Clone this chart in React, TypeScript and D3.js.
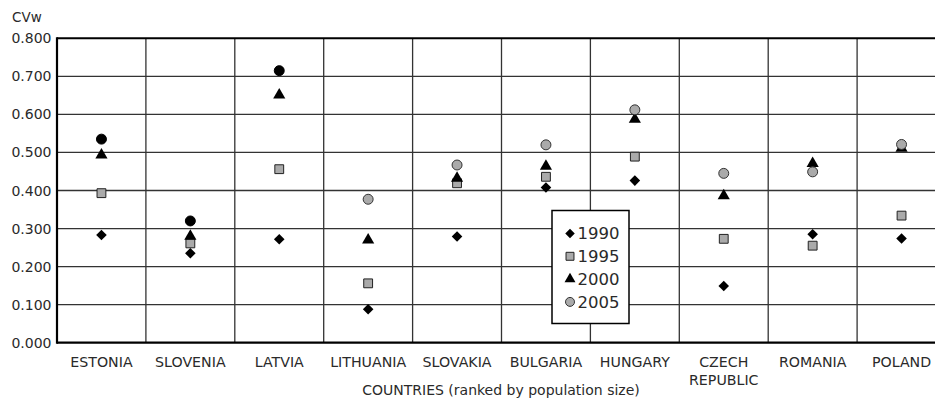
import React from "react";
import * as d3 from "d3";

const countries = ["ESTONIA", "SLOVENIA", "LATVIA", "LITHUANIA", "SLOVAKIA", "BULGARIA", "HUNGARY", "CZECH REPUBLIC", "ROMANIA", "POLAND"];
const years = ["1990", "1995", "2000", "2005"];
const v1990 = [0.283, 0.235, 0.272, 0.088, 0.279, 0.408, 0.426, 0.149, 0.285, 0.274];
const v1995 = [0.393, 0.261, 0.456, 0.156, 0.419, 0.436, 0.489, 0.273, 0.255, 0.334];
const v2000 = [0.493, 0.280, 0.651, 0.270, 0.432, 0.464, 0.587, 0.386, 0.471, 0.511];
const v2005 = [0.535, 0.320, 0.715, 0.377, 0.467, 0.520, 0.612, 0.445, 0.449, 0.521];
const yTicks = [0, 0.1, 0.2, 0.3, 0.4, 0.5, 0.6, 0.7, 0.8];

const W = 935, H = 401;
const left = 57, top = 38.3, bottom = 342.7, bandW = 88.9;
const FONT = "'DejaVu Sans', sans-serif";
const TXT = "#2a2a2a";

function Marker({ kind, x, y, scale = 1, dark = false }: { kind: number; x: number; y: number; scale?: number; dark?: boolean }) {
  if (kind === 0) {
    const p = d3.symbol().type(d3.symbolSquare).size(56 * scale * scale)();
    return <path d={p || ""} transform={`translate(${x},${y}) rotate(45)`} fill="#000" />;
  }
  if (kind === 1) {
    const p = d3.symbol().type(d3.symbolSquare).size(78 * scale * scale)();
    return <path d={p || ""} transform={`translate(${x},${y})`} fill="#aaa" stroke="#222" strokeWidth={1} />;
  }
  if (kind === 2) {
    const p = d3.symbol().type(d3.symbolTriangle).size(64 * scale * scale)();
    return <path d={p || ""} transform={`translate(${x},${y})`} fill="#000" />;
  }
  const p = d3.symbol().type(d3.symbolCircle).size(78 * scale * scale)();
  return <path d={p || ""} transform={`translate(${x},${y})`} fill={dark ? "#000" : "#aaa"} stroke={dark ? "#000" : "#333"} strokeWidth={1} />;
}

export default function App() {
  const x = d3.scaleBand<string>().domain(countries).range([left, left + bandW * countries.length]).padding(0);
  const y = d3.scaleLinear().domain([0, 0.8]).range([bottom, top]);
  const series = [v1990, v1995, v2000, v2005];

  const legend = { x0: 552, y0: 210.5, w: 77, h: 113 };

  return (
    <svg width={W} height={H} style={{ position: "absolute", left: 0, top: 0, background: "#fff" }} fontFamily={FONT}>
      <rect x={0} y={0} width={W} height={H} fill="#fff" />
      <text x={12} y={21.5} fontSize={13.5} fill={TXT}>CVw</text>
      {yTicks.slice(1, -1).map((t) => (
        <line key={"h" + t} x1={left} x2={W + 20} y1={y(t)} y2={y(t)} stroke="#333" strokeWidth={1.3} />
      ))}
      {countries.slice(1).map((c) => (
        <line key={"v" + c} x1={x(c)!} x2={x(c)!} y1={top} y2={bottom} stroke="#333" strokeWidth={1.3} />
      ))}
      <line x1={left} x2={W + 20} y1={top} y2={top} stroke="#000" strokeWidth={2} />
      <line x1={left} x2={W + 20} y1={bottom} y2={bottom} stroke="#000" strokeWidth={2.2} />
      <line x1={left} x2={left} y1={top - 1} y2={bottom + 1} stroke="#000" strokeWidth={2.2} />
      {yTicks.map((t) => (
        <text key={"t" + t} x={51.5} y={y(t)} dy="0.36em" textAnchor="end" fontSize={14} fill={TXT}>
          {d3.format(".3f")(t)}
        </text>
      ))}
      {countries.map((c) => {
        const cx = x(c)! + bandW / 2;
        const lines = c === "CZECH REPUBLIC" ? ["CZECH", "REPUBLIC"] : [c];
        return (
          <text key={"c" + c} x={cx} y={367} textAnchor="middle" fontSize={14.2} fill={TXT}>
            {lines.map((l, i) => (
              <tspan key={l} x={cx} dy={i === 0 ? 0 : 18}>{l}</tspan>
            ))}
          </text>
        );
      })}
      <text x={501} y={395} textAnchor="middle" fontSize={14} fill={TXT}>COUNTRIES (ranked by population size)</text>
      {series.map((vals, si) =>
        vals.map((v, i) => (
          <Marker key={si + "-" + i} kind={si} x={x(countries[i])! + bandW / 2} y={y(v)} dark={si === 3 && i < 3} />
        ))
      )}
      <rect x={legend.x0} y={legend.y0} width={legend.w} height={legend.h} fill="#fff" stroke="#000" strokeWidth={1.5} />
      {years.map((yr, i) => {
        const cy = 233.5 + i * 22.8;
        return (
          <g key={yr}>
            <Marker kind={i} x={570} y={cy} scale={0.9} />
            <text x={577.5} y={cy} dy="0.36em" fontSize={16.5} fill={TXT}>{yr}</text>
          </g>
        );
      })}
    </svg>
  );
}
